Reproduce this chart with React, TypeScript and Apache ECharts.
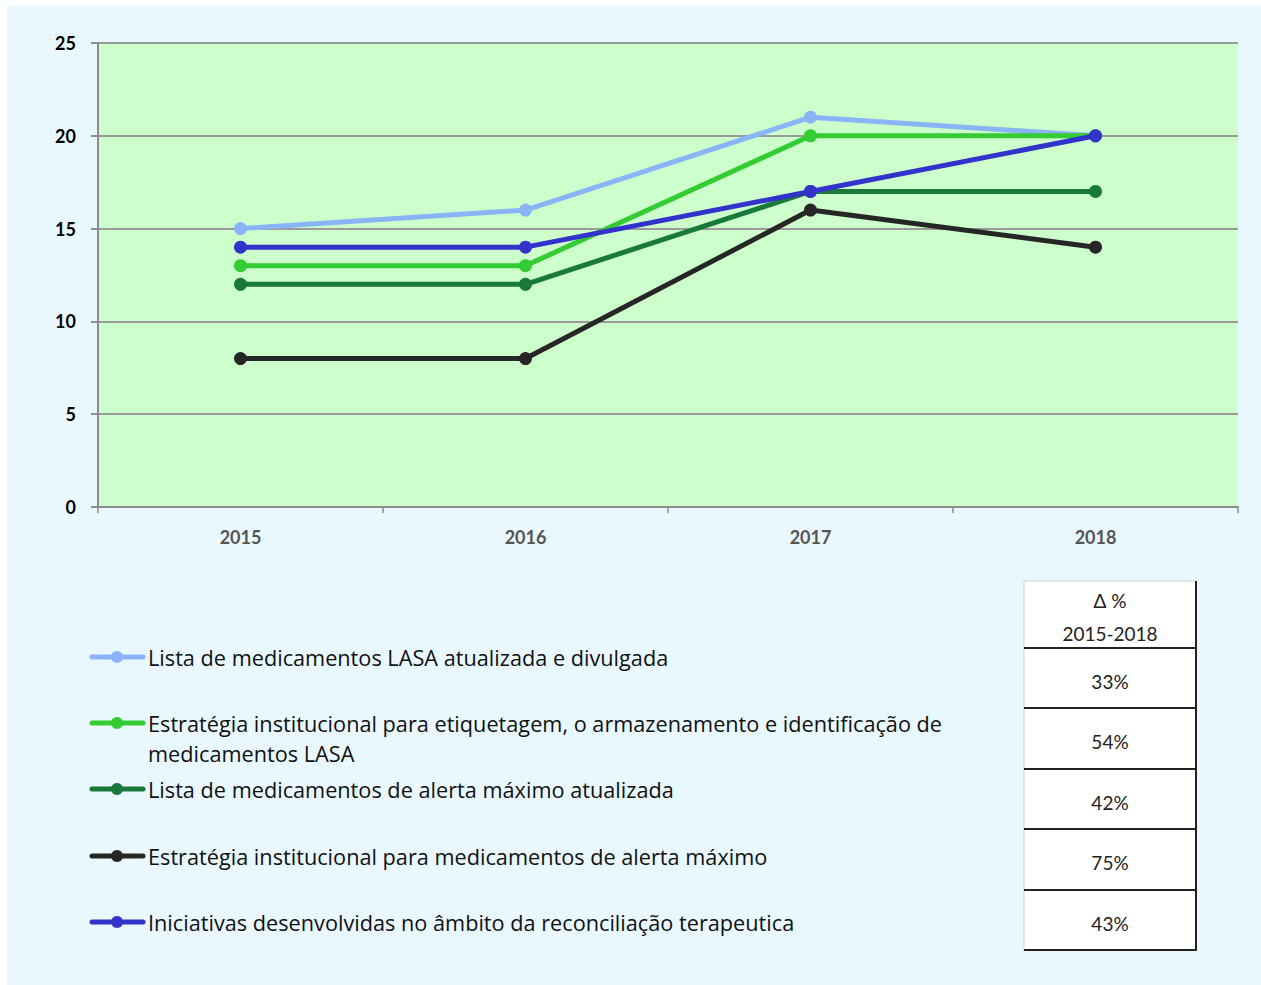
import React, { useEffect, useRef } from "react";
import * as echarts from "echarts";

const years = ["2015", "2016", "2017", "2018"];
const seriesNames = [
  "Lista de medicamentos LASA atualizada e divulgada",
  "Estratégia institucional para etiquetagem, o armazenamento e identificação de\nmedicamentos LASA",
  "Lista de medicamentos de alerta máximo atualizada",
  "Estratégia institucional para medicamentos de alerta máximo",
  "Iniciativas desenvolvidas no âmbito da reconciliação terapeutica",
];
const lasaList = [15, 16, 21, 20];
const lasaStrategy = [13, 13, 20, 20];
const alertList = [12, 12, 17, 17];
const alertStrategy = [8, 8, 16, 14];
const reconciliation = [14, 14, 17, 20];
const seriesColors = ["#8ab4f8", "#33cc33", "#18793a", "#262626", "#3333cc"];
const deltaHeader = ["Δ %", "2015-2018"];
const deltas = ["33%", "54%", "42%", "75%", "43%"];

const FONT = "Lato, 'Noto Sans', sans-serif";
const LEGEND_FONT = "'Open Sans', 'Noto Sans', sans-serif";

export default function App() {
  const ref = useRef<HTMLDivElement>(null);
  useEffect(() => {
    if (!ref.current) return;
    const chart = echarts.init(ref.current, undefined, { renderer: "svg" });
    const allData = [lasaList, lasaStrategy, alertList, alertStrategy, reconciliation];

    const legendY = [657, 723, 789, 856, 922];
    const legendGraphics: any[] = [];
    seriesNames.forEach((name, i) => {
      const y = legendY[i];
      legendGraphics.push({
        type: "line",
        shape: { x1: 92, y1: y, x2: 143, y2: y },
        style: { stroke: seriesColors[i], lineWidth: 5, lineCap: "round" },
      });
      legendGraphics.push({
        type: "circle",
        shape: { cx: 117, cy: y, r: 6 },
        style: { fill: seriesColors[i] },
      });
      legendGraphics.push({
        type: "text",
        x: 148,
        y: y - 15,
        style: {
          text: name,
          font: `21.7px ${LEGEND_FONT}`,
          fill: "#111",
          lineHeight: 30,
          verticalAlign: "top",
        },
      });
    });

    // Table
    const tx1 = 1024, tx2 = 1196;
    const rowLines = [648, 708, 769, 829, 890, 950];
    const tableGraphics: any[] = [
      { type: "rect", shape: { x: tx1, y: 581, width: tx2 - tx1, height: 950 - 581 }, style: { fill: "#ffffff" } },
      { type: "line", shape: { x1: tx1, y1: 581, x2: tx2, y2: 581 }, style: { stroke: "#d0d0d0", lineWidth: 1 } },
      { type: "line", shape: { x1: tx1, y1: 581, x2: tx1, y2: 950 }, style: { stroke: "#d0d0d0", lineWidth: 1 } },
      { type: "line", shape: { x1: tx2, y1: 581, x2: tx2, y2: 951 }, style: { stroke: "#222", lineWidth: 2 } },
    ];
    rowLines.forEach((ly) => {
      tableGraphics.push({ type: "line", shape: { x1: tx1, y1: ly, x2: tx2, y2: ly }, style: { stroke: "#222", lineWidth: 2 } });
    });
    tableGraphics.push({
      type: "text", x: 1110, y: 600,
      style: { text: deltaHeader[0], font: `19px ${FONT}`, fill: "#222", align: "center", verticalAlign: "middle" },
    });
    tableGraphics.push({
      type: "text", x: 1110, y: 633,
      style: { text: deltaHeader[1], font: `19px ${FONT}`, fill: "#222", align: "center", verticalAlign: "middle" },
    });
    deltas.forEach((d, i) => {
      const cy = (rowLines[i] + rowLines[i + 1]) / 2 + 3;
      tableGraphics.push({
        type: "text", x: 1110, y: cy,
        style: { text: d, font: `19px ${FONT}`, fill: "#222", align: "center", verticalAlign: "middle" },
      });
    });

    chart.setOption({
      animation: false,
      backgroundColor: "#ffffff",
      graphic: [
        { type: "rect", z: -10, shape: { x: 7, y: 5, width: 1254, height: 980 }, style: { fill: "#e9f8fe" } },
        { type: "rect", z: -9, shape: { x: 98, y: 43, width: 1140, height: 464 }, style: { fill: "#ccffcc" } },
        ...legendGraphics,
        ...tableGraphics,
      ],
      grid: { left: 98, top: 43, width: 1140, height: 464 },
      xAxis: {
        type: "category",
        data: years,
        boundaryGap: true,
        axisLine: { show: true, lineStyle: { color: "#8c8c8c", width: 2 } },
        axisTick: { show: true, length: 6, lineStyle: { color: "#8c8c8c", width: 1.5 } },
        axisLabel: { color: "#555", fontSize: 18, fontWeight: "bold", fontFamily: FONT, margin: 21 },
        splitLine: { show: false },
      },
      yAxis: {
        type: "value",
        min: 0,
        max: 25,
        interval: 5,
        axisLine: { show: true, lineStyle: { color: "#8c8c8c", width: 2 } },
        axisTick: { show: true, length: 7, lineStyle: { color: "#8c8c8c", width: 2 } },
        axisLabel: { color: "#000", fontSize: 18, fontWeight: "bold", fontFamily: FONT, margin: 22 },
        splitLine: { show: true, lineStyle: { color: "#9a9a9a", width: 2 } },
      },
      series: allData.map((d, i) => ({
        name: seriesNames[i],
        type: "line",
        data: d,
        symbol: "circle",
        symbolSize: 13,
        lineStyle: { color: seriesColors[i], width: 5 },
        itemStyle: { color: seriesColors[i] },
        z: 2 + i,
      })),
    });
    return () => chart.dispose();
  }, []);
  return (
    <div
      ref={ref}
      style={{ position: "absolute", left: 0, top: 0, width: 1261, height: 985 }}
    />
  );
}
